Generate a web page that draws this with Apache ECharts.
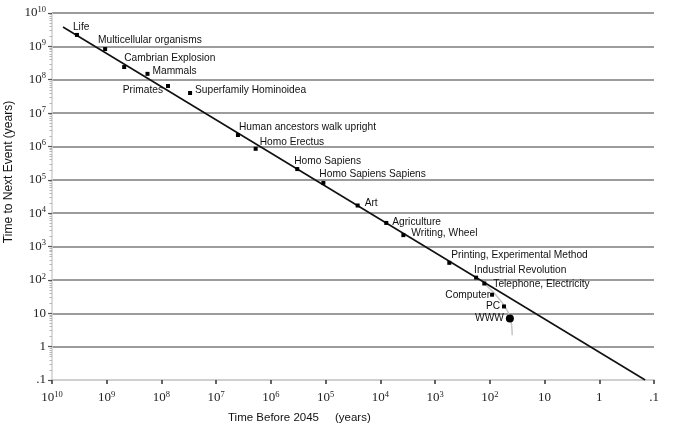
<!DOCTYPE html>
<html>
<head>
<meta charset="utf-8">
<script src="https://cdn.jsdelivr.net/npm/echarts@6/dist/echarts.min.js"></script>
<style>
html,body{margin:0;padding:0;background:#fff;}
#chart{width:691px;height:438px;}
</style>
</head>
<body>
<div id="chart"></div>
<script>
// ---- data ----
const tickLabels = ['.1', '1', '10', '10^2', '10^3', '10^4', '10^5', '10^6', '10^7', '10^8', '10^9', '10^10']; // exponents -1..10
const eventNames = ['Life', 'Multicellular organisms', 'Cambrian Explosion', 'Mammals', 'Primates',
  'Superfamily Hominoidea', 'Human ancestors walk upright', 'Homo Erectus', 'Homo Sapiens',
  'Homo Sapiens Sapiens', 'Art', 'Agriculture', 'Writing, Wheel', 'Printing, Experimental Method',
  'Industrial Revolution', 'Telephone, Electricity', 'Computer', 'PC', 'WWW'];
const timeBefore2045 = [3.5e9, 1.07e9, 4.8e8, 1.8e8, 7.6e7, 3.0e7, 4.0e6, 1.9e6, 3.3e5, 1.1e5,
  2.6e4, 7.8e3, 3.8e3, 550, 178, 126, 91, 55, 43];
const timeToNextEvent = [2.2e9, 8.3e8, 2.4e8, 1.5e8, 6.5e7, 4.0e7, 2.2e6, 8.5e5, 2.1e5, 8.1e4,
  1.7e4, 5.1e3, 2.2e3, 325, 117, 78, 36, 16, 7];
const trendX = [6.3e9, 0.145];
const trendY = [3.8e9, 0.1];
const curveX = [126, 80, 53, 42, 39];
const curveY = [78, 37, 16, 7, 2.2];

// ---- label placement (style, not data) ----
const labelPlacement = [
  ['right', -6, -8], ['right', -9, -9], ['right', -2, -9], ['right', 3, -3], ['left', -3, 4],
  ['right', 3, -3], ['right', -1, -8], ['right', 2, -7], ['right', -5, -8],
  ['right', -6, -9], ['right', 5, -2], ['right', 4, -1], ['right', 6, -2], ['right', 0, -8],
  ['right', -4, -7], ['right', 7, 1], ['left', 0, 0], ['left', -2, 0], ['left', -2, 0]
];

function fmtTick(v) {
  const e = Math.round(Math.log10(v));
  const t = tickLabels[e + 1];
  if (t === undefined) return '';
  if (t.indexOf('^') < 0) return '{b|' + t + '}';
  const parts = t.split('^');
  return '{b|' + parts[0] + '}{s|' + parts[1] + '}';
}

const richTick = {
  b: { fontFamily: 'Liberation Serif', fontSize: 13, color: '#222', lineHeight: 16 },
  s: { fontFamily: 'Liberation Serif', fontSize: 8.5, color: '#222', verticalAlign: 'top', lineHeight: 16, padding: [0, 0, 6, 0] }
};

const splitColors = ['#d0d0d0'];
for (let i = 0; i < 11; i++) splitColors.push('#9c9c9c');

const chart = echarts.init(document.getElementById('chart'), null, { renderer: 'canvas' });

const eventData = eventNames.map((n, i) => {
  const p = labelPlacement[i];
  const isWWW = n === 'WWW';
  return {
    name: n,
    value: [timeBefore2045[i], timeToNextEvent[i]],
    symbol: isWWW ? 'circle' : 'rect',
    symbolSize: isWWW ? 8 : 4,
    label: { show: true, formatter: n, position: p[0], distance: 0, offset: [p[1], p[2]] }
  };
});

chart.setOption({
  animation: false,
  backgroundColor: '#fff',
  grid: { left: 52, right: 37, top: 13, bottom: 58, containLabel: false },
  xAxis: {
    type: 'log', logBase: 10, min: 0.1, max: 1e10, interval: 1, inverse: true,
    axisLine: { show: true, lineStyle: { color: '#cfcfcf', width: 2 } },
    axisTick: { show: true, length: 4, inside: false, lineStyle: { color: '#333', width: 1.5 } },
    axisLabel: { formatter: fmtTick, rich: richTick, margin: 10, showMinLabel: true, showMaxLabel: true, interval: 0 },
    splitLine: { show: false },
    minorTick: { show: false }
  },
  yAxis: {
    type: 'log', logBase: 10, min: 0.1, max: 1e10, interval: 1,
    axisLine: { show: true, lineStyle: { color: '#cfcfcf', width: 1.5 } },
    axisTick: { show: true, length: 4, lineStyle: { color: '#555', width: 1.2 } },
    minorTick: { show: true, splitNumber: 9, length: 2.5, lineStyle: { color: '#b5b5b5', width: 1 } },
    axisLabel: { formatter: fmtTick, rich: richTick, margin: 6, interval: 0 },
    splitLine: { show: true, lineStyle: { color: splitColors, width: 1.8 } }
  },
  series: [
    {
      type: 'line', data: trendX.map((x, i) => [x, trendY[i]]),
      symbol: 'none', lineStyle: { color: '#111', width: 1.6 }, z: 3, silent: true
    },
    {
      type: 'line', data: curveX.map((x, i) => [x, curveY[i]]),
      symbol: 'none', smooth: 0.4, lineStyle: { color: '#c4c4c4', width: 1.5 }, z: 2, silent: true
    },
    {
      type: 'scatter', data: eventData,
      itemStyle: { color: '#000', opacity: 1 }, z: 4,
      label: { fontFamily: 'Liberation Sans', fontSize: 10.2, color: '#111' }
    }
  ],
  graphic: [
    {
      type: 'text', left: 228, top: 412,
      style: { text: 'Time Before 2045     (years)', fontFamily: 'Liberation Sans', fontSize: 11.5, fill: '#111' }
    },
    {
      type: 'text', x: 9, y: 172, rotation: Math.PI / 2,
      style: { text: 'Time to Next Event (years)', fontFamily: 'Liberation Sans', fontSize: 12, fill: '#111', align: 'center', verticalAlign: 'middle' }
    }
  ]
});
</script>
</body>
</html>
